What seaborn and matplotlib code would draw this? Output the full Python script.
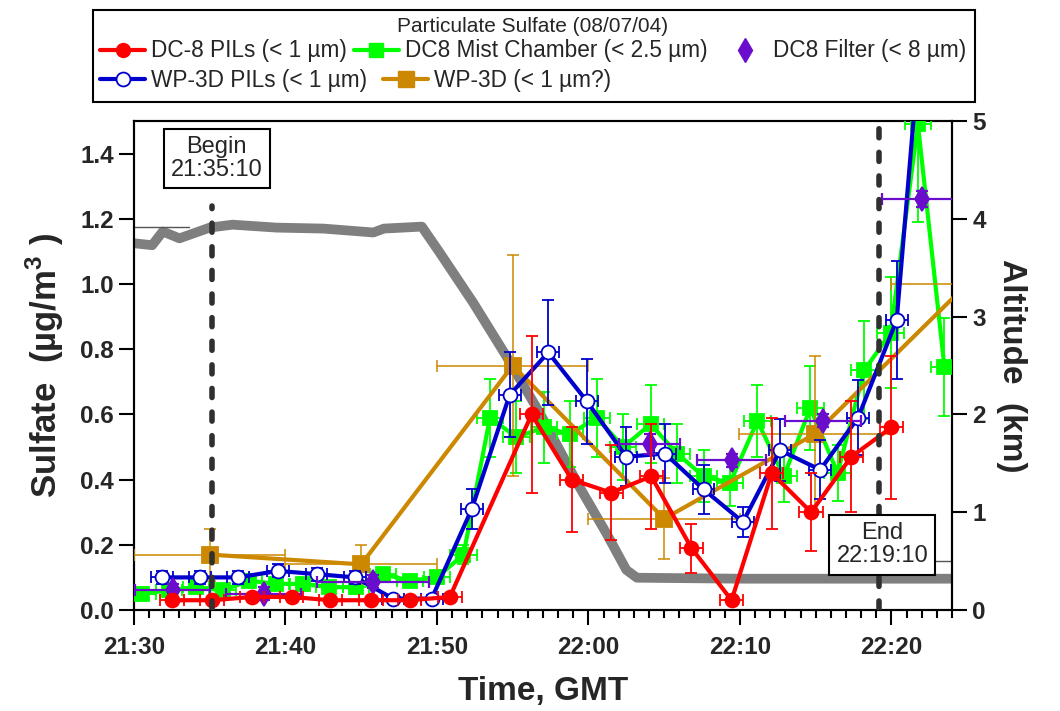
import numpy as np
import pandas as pd
import matplotlib
matplotlib.use("Agg")
import matplotlib.pyplot as plt
from matplotlib.lines import Line2D
from matplotlib.patches import Rectangle
import seaborn as sns

# ---- data (time in minutes after 21:30 GMT) ----
red_t = [2.5, 5.15, 7.8, 10.4, 12.95, 15.65, 18.2, 20.85, 26.25, 28.9, 31.5,
         34.15, 36.8, 39.45, 42.1, 44.7, 47.35, 50.0]
red_v = [0.03, 0.03, 0.04, 0.04, 0.03, 0.03, 0.03, 0.04, 0.60, 0.40, 0.36,
         0.41, 0.19, 0.03, 0.42, 0.30, 0.47, 0.56]
red_dv = [0.01, 0.01, 0.01, 0.01, 0.01, 0.01, 0.01, 0.01, 0.24, 0.16, 0.145,
          0.16, 0.075, 0.01, 0.17, 0.12, 0.17, 0.22]
red_dt = 0.77

blue_t = [1.83, 4.36, 6.88, 9.5, 12.05, 14.6, 17.1, 19.65, 22.3, 24.8, 27.35,
          29.9, 32.5, 35.05, 37.6, 40.2, 42.65, 45.3, 47.8, 50.35, 52.9]
blue_v = [0.10, 0.10, 0.10, 0.12, 0.11, 0.10, 0.035, 0.035, 0.31, 0.66, 0.79,
          0.64, 0.47, 0.48, 0.37, 0.27, 0.49, 0.43, 0.59, 0.89, 2.3]
blue_dv = [0.02, 0.02, 0.02, 0.02, 0.02, 0.02, 0.01, 0.01, 0.06, 0.13, 0.16,
           0.13, 0.09, 0.09, 0.075, 0.045, 0.095, 0.09, 0.115, 0.18, 0.4]
blue_dt = 0.72

green_t = [0.55, 2.3, 4.1, 5.85, 7.6, 9.35, 11.15, 12.9, 14.65, 16.45, 18.2,
           20.0, 21.75, 23.5, 25.25, 27.05, 28.8, 30.55, 32.3, 34.1, 35.85,
           37.6, 39.35, 41.15, 42.9, 44.65, 46.45, 48.2, 49.95, 51.75, 53.5]
green_v = [0.05, 0.06, 0.07, 0.06, 0.09, 0.08, 0.08, 0.07, 0.07, 0.11, 0.09,
           0.10, 0.17, 0.59, 0.53, 0.56, 0.54, 0.59, 0.50, 0.57, 0.48,
           0.41, 0.39, 0.58, 0.41, 0.62, 0.42, 0.735, 0.85, 1.49, 0.745]
green_dv = [0.015, 0.015, 0.015, 0.015, 0.015, 0.015, 0.015, 0.015, 0.015,
            0.015, 0.015, 0.015, 0.03, 0.12, 0.11, 0.11, 0.10, 0.12, 0.10,
            0.12, 0.09, 0.08, 0.07, 0.11, 0.08, 0.13, 0.085, 0.15, 0.17,
            0.30, 0.15]
green_dt = 0.87

filter_t = [2.55, 8.55, 15.8, 34.05, 39.45, 45.5, 52.0]
filter_v = [0.06, 0.05, 0.087, 0.51, 0.46, 0.58, 1.26]
filter_dt = [2.48, 2.48, 3.7, 2.0, 2.3, 2.5, 2.65]
filter_dv = [0.02, 0.02, 0.02, 0.03, 0.02, 0.02, 0.025]

wp3d_t = [5.0, 15.0, 25.0, 35.0, 44.95, 55.0]
wp3d_v = [0.17, 0.14, 0.75, 0.28, 0.54, 1.0]
wp3d_dv = [0.08, 0.06, 0.34, 0.125, 0.24, 0.0]
wp3d_dt = 5.0

alt_t = [0, 1.2, 1.9, 3.0, 5.0, 6.5, 9.4, 12.5, 15.8, 16.5, 19.0, 20.2, 22.4,
         24.6, 26.8, 29.4, 31.2, 32.5, 33.2, 40.0, 54.0]
alt_km = [3.75, 3.73, 3.87, 3.80, 3.91, 3.94, 3.91, 3.90, 3.86, 3.90, 3.92,
          3.65, 3.14, 2.59, 2.01, 1.26, 0.78, 0.41, 0.33, 0.32, 0.32]
alt2_t = [0.0, 3.6, np.nan, 52.9, 54.0]
alt2_km = [3.92, 3.92, np.nan, 0.50, 0.50]

tick_min = [0, 10, 20, 30, 40, 50]
tick_lbl = ["21:30", "21:40", "21:50", "22:00", "22:10", "22:20"]
begin_t = 5 + 10 / 60
end_t = 49 + 10 / 60
begin_lbl = "Begin\n21:35:10"
end_lbl = "End\n22:19:10"

labels = ["DC-8 PILs (< 1 µm)", "DC8 Mist Chamber (< 2.5 µm)",
          "DC8 Filter (< 8 µm)", "WP-3D PILs (< 1 µm)", "WP-3D (< 1 µm?)"]

RED, GREEN, BLUE = "#ff0000", "#00ff00", "#0000cc"
PURPLE, ORANGE, GRAY = "#6a0dcc", "#cc8800", "#7f7f7f"

sns.set_theme(style="ticks")
plt.rcParams["font.family"] = ["Liberation Sans", "DejaVu Sans"]
plt.rcParams["mathtext.fontset"] = "custom"
plt.rcParams["mathtext.rm"] = "Liberation Sans:bold"
plt.rcParams["mathtext.bf"] = "Liberation Sans:bold"
plt.rcParams["lines.scale_dashes"] = False

fig = plt.figure(figsize=(10.6, 7.11), dpi=100)
ax = fig.add_axes([134 / 1060, 1 - 610 / 711, (952 - 134) / 1060, (610 - 121) / 711])
ax2 = ax.twinx()

# altitude trace on the right axis (drawn beneath the sulfate data)
sns.lineplot(x=alt_t, y=alt_km, ax=ax2, color=GRAY, linewidth=7, sort=False,
             estimator=None, solid_capstyle="round")
ax2.plot(alt2_t, alt2_km, color="#555555", lw=1.0)
ax2.set_ylim(0, 5)
ax2.set_yticks([0, 1, 2, 3, 4, 5])

ax.set_zorder(ax2.get_zorder() + 1)
ax.patch.set_visible(False)


def series(t, v, dt, dv, color, marker, ms, z, mfc=None, line=True, elw=1.3):
    ax.errorbar(t, v, yerr=dv, xerr=dt, fmt="none", ecolor=color,
                elinewidth=elw, capsize=4.5, capthick=elw, zorder=z)
    df = pd.DataFrame({"t": t, "v": v})
    sns.lineplot(data=df, x="t", y="v", ax=ax, color=color, lw=3 if line else 0,
                 sort=False, estimator=None, marker=marker, markersize=ms,
                 markerfacecolor=mfc or color, markeredgecolor=color,
                 markeredgewidth=1.3, zorder=z + 0.5)


series(green_t, green_v, green_dt, green_dv, GREEN, "s", 9.5, 3)
series(wp3d_t, wp3d_v, wp3d_dt, wp3d_dv, ORANGE, "s", 11, 4, elw=1.1)
series(blue_t, blue_v, blue_dt, blue_dv, BLUE, "o", 10, 5, mfc="white")
series(filter_t, filter_v, filter_dt, filter_dv, PURPLE, "d", 12, 6, line=False,
       elw=1.6)
series(red_t, red_v, red_dt, red_dv, RED, "o", 10, 7)

# flight leg markers
for t_mark, top in ((begin_t, 1.24), (end_t, 1.48)):
    ax.plot([t_mark, t_mark], [0, top], color="#303030", lw=4,
            dashes=(6.5, 10.5), dash_capstyle="round", zorder=8)
box = dict(boxstyle="square,pad=0.3", fc="white", ec="black", lw=1.5)
ax.text(begin_t + 0.3, 1.385, begin_lbl, ha="center", va="center", fontsize=17,
        linespacing=1.08, bbox=box, zorder=9)
ax.text(49.4, 0.2, end_lbl, ha="center", va="center", fontsize=17,
        linespacing=1.08, bbox=box, zorder=9)

ax.set_xlim(0, 54)
ax.set_ylim(0, 1.5)
ax.set_xticks(tick_min)
ax.set_xticklabels(tick_lbl)
ax.set_xticks(np.arange(0, 55, 1), minor=True)
ax.set_yticks(np.arange(0, 1.41, 0.2))
ax.yaxis.set_major_formatter(matplotlib.ticker.FormatStrFormatter("%.1f"))

for a in (ax, ax2):
    for s in a.spines.values():
        s.set_linewidth(1.5)
        s.set_color("black")
    a.tick_params(which="major", direction="out", length=11, width=1.5,
                  labelsize=17.5, color="black")
    a.tick_params(which="minor", direction="out", length=6, width=1.5, color="black")
    for lab in a.get_xticklabels() + a.get_yticklabels():
        lab.set_fontweight("bold")
ax.tick_params(axis="x", pad=8)

ax.set_xlabel("Time, GMT", fontsize=24, fontweight="bold", labelpad=12)
ax.set_ylabel(r"Sulfate  (µg/m$^{3}$ )", fontsize=25, fontweight="bold", labelpad=10)
ax2.set_ylabel("Altitude  (km)", fontsize=24, fontweight="bold", rotation=270,
               labelpad=30)

# legend panel
fig.patches.append(Rectangle((93 / 1060, 1 - 102 / 711), 882 / 1060, 92 / 711,
                             transform=fig.transFigure, fill=False, ec="black",
                             lw=1.5))
fig.text(533 / 1060, 1 - 27 / 711, "Particulate Sulfate (08/07/04)",
         ha="center", va="center", fontsize=15)

h_red = Line2D([], [], color=RED, lw=3, marker="o", ms=10)
h_green = Line2D([], [], color=GREEN, lw=3, marker="s", ms=9.5)
h_filter = Line2D([], [], color=PURPLE, ls="none", marker="d", ms=12)
h_blue = Line2D([], [], color=BLUE, lw=3, marker="o", ms=10, mfc="white",
                mew=1.3)
h_wp3d = Line2D([], [], color=ORANGE, lw=3, marker="s", ms=11)

kw = dict(frameon=False, fontsize=16.3, handlelength=2.0, handletextpad=0.25,
          borderpad=0, borderaxespad=0)
fig.legend([h_red, h_green], labels[:2], ncol=2, loc="center left",
           bbox_to_anchor=(100 / 1060, 1 - 51 / 711), columnspacing=0.3, **kw)
fig.legend([h_filter], labels[2:3], loc="center left",
           bbox_to_anchor=(722 / 1060, 1 - 51 / 711), **kw)
fig.legend([h_blue, h_wp3d], labels[3:], ncol=2, loc="center left",
           bbox_to_anchor=(100 / 1060, 1 - 80 / 711), columnspacing=0.7, **kw)

fig.savefig("out.png", dpi=100)
